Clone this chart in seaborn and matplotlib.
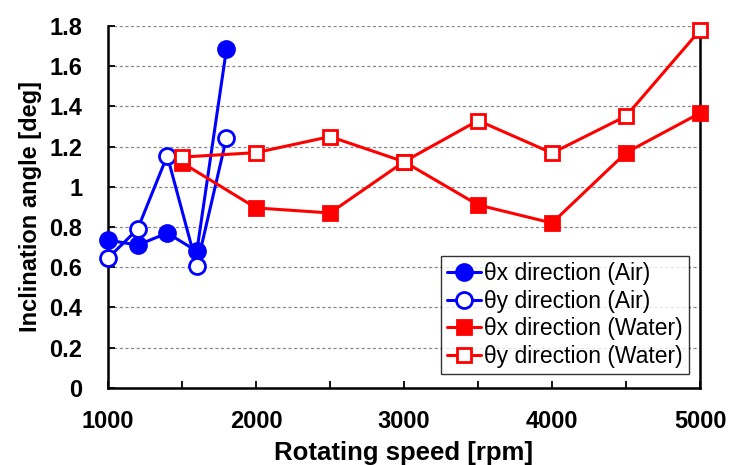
import numpy as np
import pandas as pd
import matplotlib
matplotlib.use('Agg')
import matplotlib.pyplot as plt
import seaborn as sns
from matplotlib.ticker import MultipleLocator, FuncFormatter

# Data
speed_air = [1000, 1200, 1400, 1600, 1800]
thx_air = [0.735, 0.71, 0.77, 0.68, 1.685]
thy_air = [0.645, 0.79, 1.155, 0.607, 1.243]

speed_water = [1500, 2000, 2500, 3000, 3500, 4000, 4500, 5000]
thx_water = [1.12, 0.895, 0.87, 1.125, 0.91, 0.82, 1.17, 1.367]
thy_water = [1.148, 1.17, 1.25, 1.125, 1.33, 1.168, 1.352, 1.78]

labels = ['θx direction (Air)', 'θy direction (Air)',
          'θx direction (Water)', 'θy direction (Water)']

sns.set_style('white')
plt.rcParams['font.family'] = ['Liberation Sans', 'DejaVu Sans']
plt.rcParams['text.color'] = 'black'
plt.rcParams['axes.labelcolor'] = 'black'

fig = plt.figure(figsize=(7.3, 4.65), dpi=100)
ax = fig.add_axes([0.148, 0.166, 0.811, 0.778])

series = [
    (speed_air, thx_air, labels[0], 'blue', 'o', 'blue', 11.5),
    (speed_air, thy_air, labels[1], 'blue', 'o', 'white', 11.5),
    (speed_water, thx_water, labels[2], 'red', 's', 'red', 10),
    (speed_water, thy_water, labels[3], 'red', 's', 'white', 10),
]
for x, y, lab, col, mk, fc, ms in series:
    sns.lineplot(x=x, y=y, ax=ax, label=lab, color=col, marker=mk,
                 markerfacecolor=fc, markeredgecolor=col, markeredgewidth=2,
                 markersize=ms, linewidth=2.2, clip_on=False, zorder=3)

ax.set_xlim(1000, 5000)
ax.set_ylim(0, 1.8)
ax.xaxis.set_major_locator(MultipleLocator(1000))
ax.xaxis.set_minor_locator(MultipleLocator(500))
ax.yaxis.set_major_locator(MultipleLocator(0.2))
ax.yaxis.set_major_formatter(FuncFormatter(lambda v, p: f'{v:g}'))

ax.grid(axis='y', color='#888888', linestyle=(0, (2.5, 2)), linewidth=0.9)
ax.set_axisbelow(True)

ax.spines['top'].set_visible(False)
for s in ['left', 'bottom', 'right']:
    ax.spines[s].set_color('black')
    ax.spines[s].set_linewidth(1.8)

ax.tick_params(axis='both', which='both', direction='in', colors='black',
               labelsize=17, width=1.3, length=5)
ax.tick_params(axis='y', which='major', pad=18.5, left=True)
ax.tick_params(axis='x', which='major', pad=16, bottom=True)
ax.tick_params(axis='x', which='minor', bottom=True)
for t in ax.get_xticklabels() + ax.get_yticklabels():
    t.set_fontweight('bold')

ax.set_xlabel('Rotating speed [rpm]', fontsize=18.5, fontweight='bold', labelpad=5.5)
ax.set_ylabel('Inclination angle [deg]', fontsize=17, fontweight='bold', labelpad=5)

leg = ax.legend(loc='lower right', bbox_to_anchor=(0.981, 0.039), fontsize=16.5,
                frameon=True, fancybox=False, edgecolor='black',
                handlelength=1.5, handletextpad=0.15, borderpad=0.25,
                labelspacing=0.2, borderaxespad=0)
leg.get_frame().set_linewidth(1.0)

fig.savefig('out.png', dpi=100)
